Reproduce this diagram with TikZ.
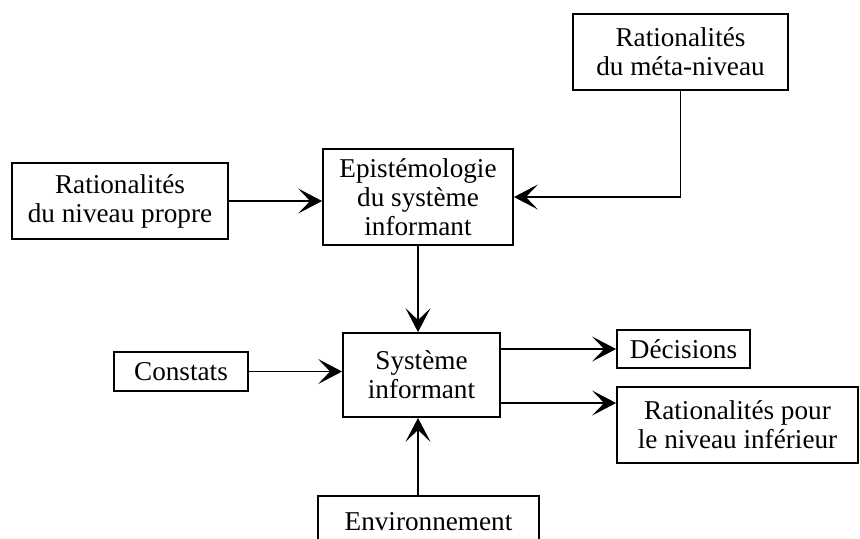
\documentclass[tikz,border=0pt]{standalone}
\usepackage{fontspec}
\setmainfont{Liberation Serif}
\usepackage{tikz}
\usetikzlibrary{arrows.meta,positioning}

\begin{document}
\begin{tikzpicture}[
          x=0.5pt, y=-0.5pt,
          >={Stealth[length=12pt,width=12.5pt,inset=6pt]},
          font=\fontsize{13.6}{14.5}\selectfont,
          box/.style={rectangle, draw=black, line width=0.9pt, inner sep=1pt,
              align=center},
          arr/.style={->, line width=0.6pt}
      ]
      \useasboundingbox (0,0) rectangle (860,538);
      \node[box, minimum width=107.5pt, minimum height=38pt] (meta)   at (680.5,52)  {Rationalités\\du méta-niveau};
      \node[box, minimum width=108pt,   minimum height=38pt] (propre) at (120,201)   {Rationalités\\du niveau propre};
      \node[box, minimum width=95pt,    minimum height=48pt] (epist)  at (418,197)   {Epistémologie\\du système\\informant};
      \node[box, minimum width=78.5pt,  minimum height=42pt] (sys)    at (421.5,375) {Système\\informant};
      \node[box, minimum width=67pt,    minimum height=19.5pt] (const) at (181,371.5) {Constats};
      \node[box, minimum width=66.5pt,  minimum height=19pt] (dec)    at (683.5,349) {Décisions};
      \node[box, minimum width=120.5pt, minimum height=38pt] (inf)    at (737.5,425) {Rationalités pour\\le niveau inférieur};
      \node[box, minimum width=110.5pt, minimum height=26pt] (env)    at (428.5,522) {Environnement};
      \draw[arr] (propre.east) -- (propre.east -| epist.west);
      \draw[arr] (meta.south) |- (epist.east);
      \draw[arr] (epist.south) -- (epist.south |- sys.north);
      \draw[arr] (const.east) -- (const.east -| sys.west);
      \draw[arr] (sys.east |- dec.west) -- (dec.west);
      \draw[arr] ([yshift=-14pt]sys.east) -- ([yshift=-14pt]sys.east -| inf.west);
      \draw[arr] (epist.south |- env.north) -- (epist.south |- sys.south);
\end{tikzpicture}
\end{document}
